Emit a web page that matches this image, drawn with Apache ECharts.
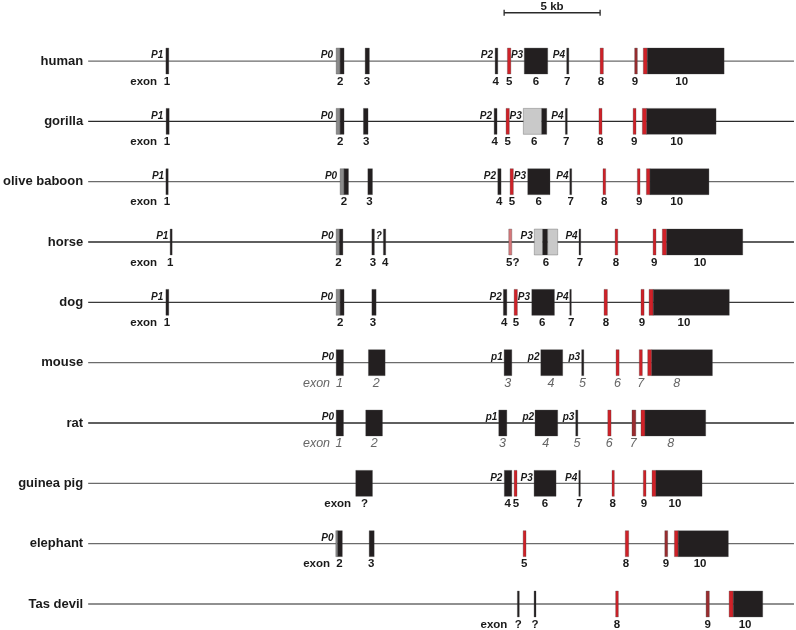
<!DOCTYPE html>
<html><head><meta charset="utf-8">
<script src="https://cdn.jsdelivr.net/npm/echarts@6/dist/echarts.min.js"></script>
<style>html,body{margin:0;padding:0;background:#fff}#c{width:796px;height:630px}</style>
</head><body><div id="c"></div>
<script>
// ---- data (positions in kb from left end of drawn locus) ----
const species = ['human','gorilla','olive baboon','horse','dog','mouse','rat','guinea pig','elephant','Tas devil'];
const geneLine = [0, 36.77];
const scaleBar = [21.67, 26.67];
const scaleBarLabel = '5 kb';

// exon segments: [start kb, end kb, colour key]  k=black r=red d=dark red p=pale red g=grey l=light grey
const humanExons = [[4.05,4.20,'k'],[12.92,13.125,'g'],[13.125,13.33,'k'],[14.43,14.65,'k'],[21.20,21.34,'k'],[21.84,22.02,'r'],[22.72,23.94,'k'],[24.93,25.04,'k'],[26.67,26.84,'r'],[28.47,28.61,'d'],[28.92,29.13,'r'],[29.13,33.13,'k']];
const gorillaExons = [[4.06,4.22,'k'],[12.92,13.125,'g'],[13.125,13.33,'k'],[14.34,14.58,'k'],[21.15,21.30,'k'],[21.77,21.94,'r'],[22.67,23.63,'l'],[23.63,23.89,'k'],[24.86,24.96,'k'],[26.61,26.77,'r'],[28.39,28.54,'r'],[28.87,29.10,'r'],[29.10,32.71,'k']];
const baboonExons = [[4.05,4.17,'k'],[13.125,13.33,'g'],[13.33,13.56,'k'],[14.57,14.81,'k'],[21.34,21.51,'k'],[21.98,22.15,'r'],[22.90,24.06,'k'],[25.09,25.19,'k'],[26.82,26.96,'r'],[28.61,28.75,'r'],[29.08,29.27,'r'],[29.27,32.34,'k']];
const horseExons = [[4.27,4.375,'k'],[12.92,13.09,'g'],[13.09,13.27,'k'],[14.78,14.91,'k'],[15.38,15.50,'k'],[21.91,22.07,'p'],[23.24,23.68,'l'],[23.68,23.94,'k'],[23.94,24.46,'l'],[25.57,25.66,'k'],[27.45,27.59,'r'],[29.43,29.58,'r'],[29.91,30.14,'r'],[30.14,34.10,'k']];
const dogExons = [[4.05,4.20,'k'],[12.92,13.125,'g'],[13.125,13.33,'k'],[14.78,15.0,'k'],[21.63,21.81,'k'],[22.19,22.36,'r'],[23.11,24.29,'k'],[25.09,25.17,'k'],[26.875,27.05,'r'],[28.80,28.96,'r'],[29.22,29.44,'r'],[29.44,33.40,'k']];
const mouseExons = [[12.92,13.30,'k'],[14.60,15.47,'k'],[21.67,22.07,'k'],[23.58,24.72,'k'],[25.71,25.82,'k'],[27.5,27.66,'r'],[28.71,28.87,'r'],[29.15,29.36,'r'],[29.36,32.52,'k']];
const ratExons = [[12.92,13.30,'k'],[14.46,15.33,'k'],[21.39,21.81,'k'],[23.28,24.46,'k'],[25.40,25.51,'k'],[27.07,27.24,'r'],[28.33,28.53,'d'],[28.80,29.01,'r'],[29.01,32.17,'k']];
const guineaPigExons = [[13.94,14.81,'k'],[21.68,22.07,'k'],[22.19,22.34,'r'],[23.23,24.375,'k'],[25.56,25.64,'k'],[27.29,27.41,'r'],[28.92,29.06,'r'],[29.375,29.58,'r'],[29.58,31.98,'k']];
const elephantExons = [[12.90,13.0,'g'],[13.0,13.24,'k'],[14.64,14.90,'k'],[22.66,22.81,'r'],[27.98,28.16,'r'],[30.04,30.19,'d'],[30.54,30.74,'r'],[30.74,33.35,'k']];
const tasDevilExons = [[22.36,22.46,'k'],[23.23,23.33,'k'],[27.48,27.62,'r'],[32.19,32.36,'d'],[33.39,33.61,'r'],[33.61,35.14,'k']];

// promoter labels: [right edge kb, text]
const humanPromoters = [[3.91,'P1'],[12.76,'P0'],[21.09,'P2'],[22.66,'P3'],[24.84,'P4']];
const gorillaPromoters = [[3.91,'P1'],[12.76,'P0'],[21.04,'P2'],[22.59,'P3'],[24.76,'P4']];
const baboonPromoters = [[3.96,'P1'],[12.97,'P0'],[21.25,'P2'],[22.81,'P3'],[25.02,'P4']];
const horsePromoters = [[4.18,'P1'],[12.78,'P0'],[15.30,'?'],[23.16,'P3'],[25.50,'P4']];
const dogPromoters = [[3.91,'P1'],[12.76,'P0'],[21.55,'P2'],[23.02,'P3'],[25.02,'P4']];
const mousePromoters = [[12.81,'P0'],[21.60,'p1'],[23.51,'p2'],[25.625,'p3']];
const ratPromoters = [[12.81,'P0'],[21.32,'p1'],[23.23,'p2'],[25.33,'p3']];
const guineaPigPromoters = [[21.58,'P2'],[23.16,'P3'],[25.48,'P4']];
const elephantPromoters = [[12.78,'P0']];
const tasDevilPromoters = [];

// exon number labels: [centre kb (right edge for "exon"), text]
const humanNumbers = [[3.59,'exon'],[4.11,'1'],[13.125,'2'],[14.52,'3'],[21.23,'4'],[21.93,'5'],[23.33,'6'],[24.95,'7'],[26.72,'8'],[28.49,'9'],[30.92,'10']];
const gorillaNumbers = [[3.59,'exon'],[4.11,'1'],[13.125,'2'],[14.48,'3'],[21.18,'4'],[21.86,'5'],[23.24,'6'],[24.90,'7'],[26.67,'8'],[28.45,'9'],[30.66,'10']];
const baboonNumbers = [[3.59,'exon'],[4.10,'1'],[13.33,'2'],[14.65,'3'],[21.41,'4'],[22.08,'5'],[23.47,'6'],[25.14,'7'],[26.88,'8'],[28.70,'9'],[30.66,'10']];
const horseNumbers = [[3.59,'exon'],[4.27,'1'],[13.04,'2'],[14.83,'3'],[15.47,'4'],[22.12,'5?'],[23.85,'6'],[25.625,'7'],[27.5,'8'],[29.49,'9'],[31.875,'10']];
const dogNumbers = [[3.59,'exon'],[4.11,'1'],[13.125,'2'],[14.84,'3'],[21.67,'4'],[22.29,'5'],[23.65,'6'],[25.16,'7'],[26.98,'8'],[28.85,'9'],[31.04,'10']];
const mouseNumbers = [[12.60,'exon'],[13.09,'1'],[15.0,'2'],[21.86,'3'],[24.11,'4'],[25.75,'5'],[27.57,'6'],[28.79,'7'],[30.66,'8']];
const ratNumbers = [[12.60,'exon'],[13.07,'1'],[14.90,'2'],[21.58,'3'],[23.84,'4'],[25.47,'5'],[27.15,'6'],[28.40,'7'],[30.35,'8']];
const guineaPigNumbers = [[13.70,'exon'],[14.39,'?'],[21.86,'4'],[22.28,'5'],[23.80,'6'],[25.59,'7'],[27.33,'8'],[28.96,'9'],[30.57,'10']];
const elephantNumbers = [[12.60,'exon'],[13.09,'2'],[14.74,'3'],[22.72,'5'],[28.02,'8'],[30.10,'9'],[31.875,'10']];
const tasDevilNumbers = [[21.84,'exon'],[22.41,'?'],[23.28,'?'],[27.55,'8'],[32.28,'9'],[34.22,'10']];

const greyItalicRows = [5, 6]; // mouse, rat use alternative (grey italic) numbering

// ---- build ----
const FONT = '"Liberation Sans", Arial, Helvetica, sans-serif';
const colors = {k:'#231f20', r:'#cf2128', d:'#9a2c2f', p:'#d6777a', g:'#8a8a8a', l:'#c9c9c9'};
const lineColors = ['#6b6b6b','#2a2a2a','#6b6b6b','#2a2a2a','#3a3a3a','#6b6b6b','#2a2a2a','#6b6b6b','#6b6b6b','#6b6b6b'];
const rows = [
  [humanExons, humanPromoters, humanNumbers],
  [gorillaExons, gorillaPromoters, gorillaNumbers],
  [baboonExons, baboonPromoters, baboonNumbers],
  [horseExons, horsePromoters, horseNumbers],
  [dogExons, dogPromoters, dogNumbers],
  [mouseExons, mousePromoters, mouseNumbers],
  [ratExons, ratPromoters, ratNumbers],
  [guineaPigExons, guineaPigPromoters, guineaPigNumbers],
  [elephantExons, elephantPromoters, elephantNumbers],
  [tasDevilExons, tasDevilPromoters, tasDevilNumbers]
];
const segItems = [];
const labelItems = [];
rows.forEach((r, i) => {
  r[0].forEach(e => segItems.push({row: i, s: e[0], e: e[1], c: e[2]}));
  r[1].forEach(p => labelItems.push({row: i, x: p[0], text: p[1], kind: 'pro'}));
  r[2].forEach(n => labelItems.push({row: i, x: n[0], text: n[1], kind: greyItalicRows.includes(i) ? 'gnum' : 'num'}));
});

const chart = echarts.init(document.getElementById('c'), null, {renderer: 'canvas'});
const option = {
  animation: false,
  grid: {left: 88, right: 0, top: 0.7, bottom: 26},
  xAxis: {type: 'value', min: 0, max: 36.875, show: false},
  yAxis: {
    type: 'value', min: -1, max: 9, interval: 1, inverse: true,
    axisLine: {show: false}, axisTick: {show: false}, splitLine: {show: false},
    axisLabel: {formatter: v => species[v] || '', margin: 5, fontSize: 13, fontWeight: 'bold', color: '#1a1a1a', fontFamily: FONT}
  },
  series: [
    { // gene lines
      type: 'custom',
      data: species.map((s, i) => [geneLine[0], i, geneLine[1]]),
      renderItem: (params, api) => {
        const a = api.coord([api.value(0), api.value(1)]);
        const b = api.coord([api.value(2), api.value(1)]);
        return {type: 'line', shape: {x1: a[0], y1: a[1], x2: b[0], y2: b[1]}, style: {stroke: lineColors[params.dataIndex], lineWidth: 1.3}};
      }
    },
    { // exons
      type: 'custom',
      data: segItems.map(d => [d.s, d.row, d.e]),
      renderItem: (params, api) => {
        const it = segItems[params.dataIndex];
        const a = api.coord([it.s, it.row]);
        const b = api.coord([it.e, it.row]);
        const h = api.size([0, 1])[1] * 0.43;
        return {type: 'rect', shape: {x: a[0], y: a[1] - h / 2, width: Math.max(b[0] - a[0], 1.5), height: h},
          style: {fill: colors[it.c], stroke: 'rgba(60,60,60,0.6)', lineWidth: 0.5}};
      }
    },
    { // labels
      type: 'custom',
      data: labelItems.map(d => [d.x, d.row]),
      renderItem: (params, api) => {
        const it = labelItems[params.dataIndex];
        const p = api.coord([it.x, it.row]);
        if (it.kind === 'pro') {
          return {type: 'text', x: p[0], y: p[1] - 5.5, style: {text: it.text, font: 'italic bold 10px ' + FONT, fill: '#1a1a1a', align: 'right', verticalAlign: 'middle'}};
        }
        const grey = it.kind === 'gnum';
        const isWord = it.text === 'exon';
        return {type: 'text', x: p[0], y: p[1] + 20.5, style: {
          text: it.text,
          font: (grey ? 'italic 12.5px ' : 'bold 11.5px ') + FONT,
          fill: grey ? '#666666' : '#1a1a1a',
          align: isWord ? 'right' : 'center', verticalAlign: 'middle'}};
      }
    },
    { // scale bar
      type: 'custom',
      data: [[scaleBar[0], -0.8, scaleBar[1]]],
      renderItem: (params, api) => {
        const a = api.coord([api.value(0), api.value(1)]);
        const b = api.coord([api.value(2), api.value(1)]);
        return {type: 'group', children: [
          {type: 'line', shape: {x1: a[0], y1: a[1], x2: b[0], y2: b[1]}, style: {stroke: '#2a2a2a', lineWidth: 1.5}},
          {type: 'line', shape: {x1: a[0], y1: a[1] - 3, x2: a[0], y2: a[1] + 3}, style: {stroke: '#2a2a2a', lineWidth: 1.3}},
          {type: 'line', shape: {x1: b[0], y1: b[1] - 3, x2: b[0], y2: b[1] + 3}, style: {stroke: '#2a2a2a', lineWidth: 1.3}},
          {type: 'text', x: (a[0] + b[0]) / 2, y: a[1] - 5.5, style: {text: scaleBarLabel, font: 'bold 11.5px ' + FONT, fill: '#1a1a1a', align: 'center', verticalAlign: 'middle'}}
        ]};
      }
    }
  ]
};
chart.setOption(option);
</script>
</body></html>
